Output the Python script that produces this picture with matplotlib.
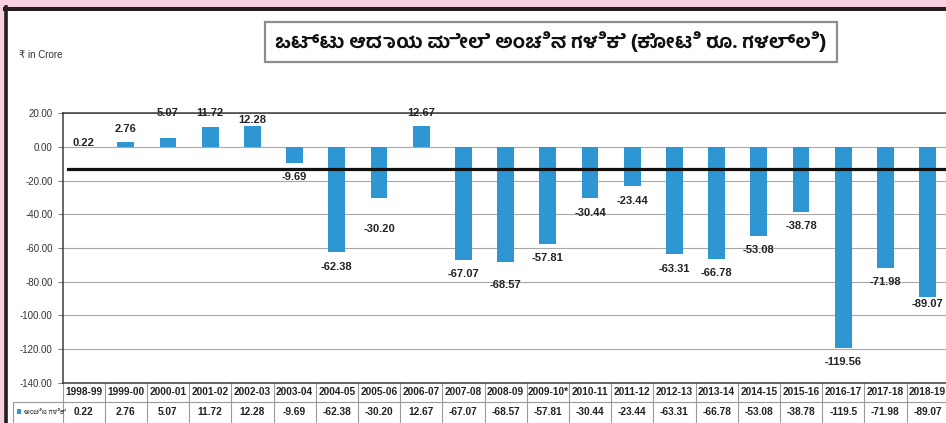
import glob
import matplotlib
matplotlib.use("Agg")
import matplotlib.pyplot as plt
from matplotlib import font_manager as fm
from matplotlib.transforms import blended_transform_factory
from matplotlib.patches import Rectangle
from matplotlib.lines import Line2D

# ---------------- data ----------------
years = ["1998-99", "1999-00", "2000-01", "2001-02", "2002-03", "2003-04", "2004-05",
         "2005-06", "2006-07", "2007-08", "2008-09", "2009-10*", "2010-11", "2011-12",
         "2012-13", "2013-14", "2014-15", "2015-16", "2016-17", "2017-18", "2018-19"]
margin = [0.22, 2.76, 5.07, 11.72, 12.28, -9.69, -62.38, -30.20, 12.67, -67.07, -68.57,
          -57.81, -30.44, -23.44, -63.31, -66.78, -53.08, -38.78, -119.56, -71.98, -89.07]
table_values = ["0.22", "2.76", "5.07", "11.72", "12.28", "-9.69", "-62.38", "-30.20", "12.67",
                "-67.07", "-68.57", "-57.81", "-30.44", "-23.44", "-63.31", "-66.78", "-53.08",
                "-38.78", "-119.5", "-71.98", "-89.07"]
reference_level = -13.3
yticks = [20, 0, -20, -40, -60, -80, -100, -120, -140]
title = "ಒಟ್ಟು ಆದಾಯ ಮೇಲೆ ಅಂಚಿನ ಗಳಿಕೆ (ಕೋಟಿ ರೂ. ಗಳಲ್ಲಿ)"
unit_label = "₹ in Crore"
series_name = "ಅಂಚಿನ ಗಳಿಕೆ"

# label distance from bar end, in pixels (layout only)
label_gap_px = [4, 13, 25, 14, 6, 14, 15, 31, 13, 14, 23, 14, 15, 15, 15, 14, 14, 14, 14, 14, 7]

# ---------------- fonts ----------------
def find_font(patterns):
    for p in patterns:
        hits = sorted(glob.glob('/usr/share/fonts/**/' + p, recursive=True))
        if hits:
            return hits[0]
    return None

kn_bold_path = find_font(['HindMysuru-Bold.ttf', 'HindMysuru-SemiBold.ttf', 'NotoSansKannadaUI*.ttf'])
kn_reg_path = find_font(['HindMysuru-Regular.ttf', 'NotoSansKannadaUI*.ttf'])
title_fp = fm.FontProperties(fname=kn_bold_path, size=14) if kn_bold_path else fm.FontProperties(size=13)
legend_fp = fm.FontProperties(fname=kn_reg_path, size=5) if kn_reg_path else fm.FontProperties(size=5)

latin = ['Liberation Sans', 'DejaVu Sans']
plt.rcParams['font.family'] = latin

W, H = 946, 423
def fx(px):
    return px / W
def fy(py):
    return 1 - py / H

pink = '#f8d0e3'
frame = '#231f20'
bar_color = '#2f96d4'

fig = plt.figure(figsize=(W / 100, H / 100), dpi=100, facecolor=pink)

# white panel and black frame
fig.patches.append(Rectangle((fx(8), 0), 1 - fx(8), fy(11), transform=fig.transFigure,
                             facecolor='white', edgecolor='none', zorder=-5))
fig.lines.append(Line2D([fx(6.2), fx(6.2)], [0, fy(7)], transform=fig.transFigure,
                        color=frame, lw=2.6, zorder=-4))
fig.lines.append(Line2D([fx(4.5), 1], [fy(9), fy(9)], transform=fig.transFigure,
                        color=frame, lw=2.9, zorder=-4))

# title box
fig.patches.append(Rectangle((fx(265), fy(62)), (837 - 265) / W, (62 - 22) / H,
                             transform=fig.transFigure, facecolor='white',
                             edgecolor='#8c8c8c', lw=1.6, zorder=1))
fig.text(fx(551), fy(42), title, fontproperties=title_fp, ha='center', va='center',
         color='#111111', zorder=2)

fig.text(fx(19), fy(55), unit_label, fontsize=7, va='center', ha='left', color='#333333',
         family=latin)

# ---------------- axes ----------------
ax_left, ax_right, ax_top, ax_bottom = 62.5, W, 113.3, 382.7
ax = fig.add_axes([fx(ax_left), fy(ax_bottom), (ax_right - ax_left) / W,
                   (ax_bottom - ax_top) / H])
ax.set_facecolor('none')
ax.set_zorder(2)

x = list(range(len(years)))
bars = ax.bar(x, margin, width=0.40, color=bar_color, zorder=3)

ax.set_ylim(-140, 20)
ax.set_xlim(-0.5, (ax_right - ax_left) / 42.2 - 0.5)
ax.set_yticks(yticks)
ax.set_yticklabels([f"{v:.2f}" for v in yticks])
ax.set_xticks([])
ax.tick_params(axis='y', length=3.6, width=0.8, color='#7f7f7f', pad=3.5,
               labelsize=7, labelcolor='#333333')
ax.yaxis.grid(True, color='#a8a8a8', lw=0.8)
ax.set_axisbelow(True)
for s in ['left', 'bottom', 'top']:
    ax.spines[s].set_color('#3c3c3c')
    ax.spines[s].set_linewidth(1.1)
ax.spines['right'].set_visible(False)

# reference line
ax.axhline(reference_level, xmin=(68 - ax_left) / (ax_right - ax_left), xmax=1,
           color='#111111', lw=2.3, zorder=4)

# bar labels
for xi, v, gap in zip(x, margin, label_gap_px):
    off = gap * 0.72 if v >= 0 else -gap * 0.72
    ax.annotate(f"{v:.2f}", (xi, v), xytext=(0, off), textcoords='offset points',
                ha='center', va='center', fontsize=8, fontweight='bold', color='#222222',
                annotation_clip=False, zorder=5)

# ---------------- data table ----------------
trans = blended_transform_factory(ax.transData, ax.transAxes)
axh = ax_bottom - ax_top
def ay(py):
    return -(py - ax_bottom) / axh
y_head, y_div, y_val, y_end = ay(392.3), ay(401.7), ay(411.7), ay(H + 2)
grid_c = '#9a9a9a'
for i in range(len(years) + 1):
    b = i - 0.5
    ax.add_line(Line2D([b, b], [0, y_end], transform=trans, color=grid_c, lw=0.8,
                       clip_on=False))
leg_left = (12.7 - ax_left) / (ax_right - ax_left)
ax.add_line(Line2D([leg_left, 1], [y_div, y_div], transform=ax.transAxes, color=grid_c,
                   lw=0.8, clip_on=False))
ax.add_line(Line2D([leg_left, leg_left], [y_div, y_end], transform=ax.transAxes,
                   color=grid_c, lw=0.8, clip_on=False))
for xi, yr, tv in zip(x, years, table_values):
    ax.text(xi, y_head, yr, transform=trans, ha='center', va='center', fontsize=7.3,
            fontweight='bold', color='#222222', clip_on=False)
    ax.text(xi, y_val, tv, transform=trans, ha='center', va='center', fontsize=7.3,
            fontweight='bold', color='#222222', clip_on=False)

# legend key in table
fig.patches.append(Rectangle((fx(16.5), fy(413.5)), 4.5 / W, 4.5 / H, transform=fig.transFigure,
                             facecolor=bar_color, edgecolor='none', zorder=3))
fig.text(fx(24), fy(411.7), series_name, fontproperties=legend_fp, ha='left', va='center',
         color='#333333')

fig.savefig('out.png', dpi=100, facecolor=pink)
